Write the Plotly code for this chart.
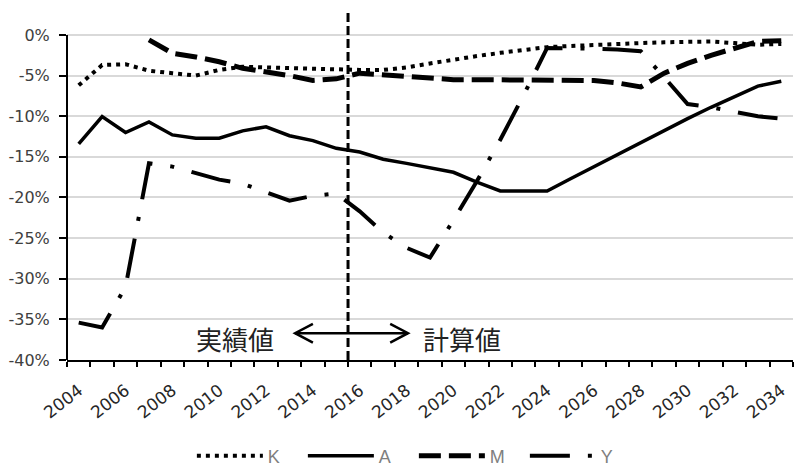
import plotly.graph_objects as go

# ---- data ----
years = list(range(2004, 2035))
K = [-6.2, -3.7, -3.6, -4.4, -4.7, -5.0, -4.3, -3.9, -4.0, -4.1, -4.1, -4.3, -4.3, -4.3, -4.0,
     -3.5, -3.0, -2.6, -2.2, -1.8, -1.5, -1.35, -1.2, -1.05, -1.0, -0.9, -0.8, -0.8, -1.0, -1.2, -1.1]
A = [-13.4, -10.05, -12.0, -10.7, -12.3, -12.7, -12.7, -11.8, -11.3, -12.4, -13.0, -13.95, -14.4,
     -15.3, -15.8, -16.3, -16.9, -18.1, -19.2, -19.2, -19.2, -17.7, -16.2, -14.7, -13.2, -11.8,
     -10.3, -8.9, -7.6, -6.3, -5.7]
M = [None, None, None, -0.6, -2.25, -2.7, -3.3, -4.1, -4.5, -5.0, -5.6, -5.4, -4.7, -4.9, -5.1,
     -5.4, -5.5, -5.5, -5.5, -5.5, -5.5, -5.5, -5.6, -5.9, -6.4, -4.7, -3.5, -2.5, -1.6, -0.8, -0.7]
Y = [-35.4, -36.0, -31.0, -15.8, -16.2, -17.0, -17.8, -18.3, -19.3, -20.4, -19.8, -19.5, -21.7,
     -24.3, -26.2, -27.4, -22.8, -18.0, -12.9, -7.4, -1.6, -1.6, -1.7, -1.8, -2.0, -5.2, -8.5,
     -8.9, -9.5, -10.0, -10.3]
series_names = ["K", "A", "M", "Y"]
y_tick_vals = [0, -5, -10, -15, -20, -25, -30, -35, -40]
y_tick_text = ["0%", "-5%", "-10%", "-15%", "-20%", "-25%", "-30%", "-35%", "-40%"]
x_tick_vals = list(range(2004, 2035, 2))
x_tick_text = [str(v) for v in x_tick_vals]
boundary_year = 2015.5
label_left = "実績値"
label_right = "計算値"

# ---- styles ----
styles = {
    "K": dict(color="black", width=4, dash="4px,5px"),
    "A": dict(color="black", width=3.5),
    "M": dict(color="black", width=5, dash="22px,8px"),
    "Y": dict(color="black", width=4, dash="40px,18px,4px,18px"),
}
data = {"K": K, "A": A, "M": M, "Y": Y}

fig = go.Figure()
for name in series_names:
    fig.add_trace(go.Scatter(x=years, y=data[name], mode="lines", name=name,
                             line=styles[name]))

x_lo, x_hi = years[0] - 0.5, years[-1] + 0.5
y_lo, y_top = -40, 2.95

shapes = [
    # y axis line
    dict(type="line", xref="paper", yref="y", x0=0, x1=0, y0=-40, y1=0,
         line=dict(color="black", width=2)),
    # boundary dashed line
    dict(type="line", xref="x", yref="y", x0=boundary_year, x1=boundary_year, y0=-40, y1=y_top,
         line=dict(color="black", width=3, dash="9px,4px")),
    # double arrow
    dict(type="line", xref="x", yref="y", x0=2013.24, x1=2018.06, y0=-36.7, y1=-36.7,
         line=dict(color="black", width=2.5)),
    dict(type="path", xref="x", yref="y", path="M 2014.0,-35.55 L 2013.24,-36.7 L 2014.0,-37.85",
         line=dict(color="black", width=2.5)),
    dict(type="path", xref="x", yref="y", path="M 2017.3,-35.55 L 2018.06,-36.7 L 2017.3,-37.85",
         line=dict(color="black", width=2.5)),
]

annotations = [
    dict(x=2010.67, y=-37.3, xref="x", yref="y", text=label_left, showarrow=False,
         font=dict(family="Noto Sans CJK JP", size=26, color="#222222")),
    dict(x=2020.35, y=-37.3, xref="x", yref="y", text=label_right, showarrow=False,
         font=dict(family="Noto Sans CJK JP", size=26, color="#222222")),
]

fig.update_layout(
    width=797, height=471,
    margin=dict(l=67, r=4, t=11, b=111, autoexpand=False),
    paper_bgcolor="white", plot_bgcolor="white",
    showlegend=True,
    legend=dict(orientation="h", x=0.172, xanchor="left", y=-0.275, yanchor="middle",
                font=dict(family="Liberation Sans", size=18, color="#7f7f7f"),
                itemwidth=66, entrywidth=30, entrywidthmode="pixels",
                bgcolor="rgba(0,0,0,0)"),
    shapes=shapes,
    annotations=annotations,
    xaxis=dict(range=[x_lo, x_hi], tickmode="array", tickvals=x_tick_vals, ticktext=x_tick_text,
               tickangle=-38, ticks="", showgrid=False, zeroline=False,
               showline=True, linecolor="black", linewidth=2, ticklabelstandoff=12,
               tickfont=dict(family="DejaVu Sans", size=17, color="#262626"),
               minor=dict(tickvals=[y_ + 0.5 for y_ in range(2003, 2035)], ticks="outside",
                          ticklen=5, tickwidth=1.5, tickcolor="black", showgrid=False)),
    yaxis=dict(range=[y_lo, y_top], tickmode="array", tickvals=y_tick_vals, ticktext=y_tick_text,
               ticks="outside", ticklen=7, tickwidth=2, tickcolor="black", ticklabelstandoff=6,
               showgrid=True, gridcolor="#d9d9d9", gridwidth=1.5, zeroline=False, showline=False,
               tickfont=dict(family="DejaVu Sans", size=16, color="#404040")),
)

fig.write_html("out.html")
